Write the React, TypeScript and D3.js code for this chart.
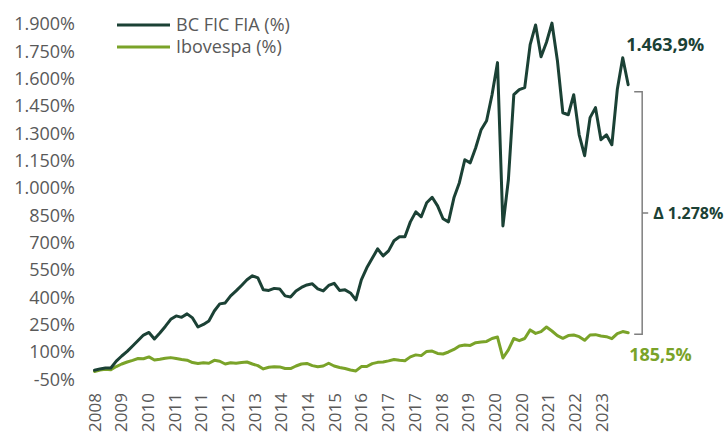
import React, { useEffect, useRef } from "react";
import * as d3 from "d3";

// rótulos do eixo X (eixo de categorias, como no original)
const rotulosX = [
  "2008", "2009", "2010", "2011", "2011", "2012", "2013", "2014", "2014", "2015",
  "2016", "2017", "2017", "2018", "2019", "2020", "2020", "2021", "2022", "2023"
];

const ticksY = [-50, 100, 250, 400, 550, 700, 850, 1000, 1150, 1300, 1450, 1600, 1750, 1900];

// observações entre dois rótulos consecutivos do eixo X
const PONTOS_POR_ROTULO = 4.9;

// rentabilidade acumulada (%)
const bcFic = [
  0, 7, 12, 12, 50, 78, 103, 133, 163, 193,
  207, 171, 204, 240, 279, 298, 290, 309, 287, 237,
  251, 270, 325, 364, 369, 408, 435, 465, 496, 518,
  507, 441, 438, 449, 446, 408, 402, 435, 454, 468,
  474, 446, 435, 465, 477, 438, 441, 424, 386, 496,
  562, 614, 666, 627, 655, 710, 732, 732, 814, 869,
  842, 919, 949, 902, 831, 814, 946, 1029, 1155, 1138,
  1221, 1320, 1369, 1512, 1688, 792, 1045, 1512, 1540, 1551,
  1787, 1895, 1720, 1800, 1905, 1700, 1413, 1402, 1512, 1292,
  1177, 1386, 1441, 1265, 1292, 1237, 1540, 1715, 1567
];

const ibovespa = [
  -7, 1, 5, 2, 20, 34, 45, 54, 64, 63,
  73, 56, 60, 65, 69, 64, 59, 55, 42, 37,
  41, 38, 54, 49, 34, 41, 38, 42, 45, 34,
  25, 7, 16, 19, 18, 9, 9, 23, 34, 37,
  25, 19, 23, 38, 23, 15, 9, 1, -4, 20,
  20, 36, 43, 45, 51, 59, 54, 52, 73, 84,
  80, 103, 105, 92, 89, 100, 114, 133, 138, 136,
  151, 155, 158, 174, 182, 67, 111, 174, 162, 174,
  221, 202, 212, 237, 215, 190, 175, 190, 193, 184,
  164, 193, 195, 188, 184, 173, 201, 212, 206
];

const series = [
  { nome: "BC FIC FIA (%)", valores: bcFic, cor: "#1b4135" },
  { nome: "Ibovespa (%)", valores: ibovespa, cor: "#7aa329" }
];

const finalBc = "1.463,9%";
const finalIbov = "185,5%";
const delta = "Δ 1.278%";

const fmt = d3
  .formatLocale({ decimal: ",", thousands: ".", grouping: [3], currency: ["R$", ""], minus: "-" })
  .format(",.0f");

function App() {
  const ref = useRef<SVGSVGElement>(null);

  useEffect(() => {
    const width = 724;
    const height = 434;
    const fonte = "'Open Sans', 'Noto Sans', sans-serif";
    const cinza = "#595959";

    const svg = d3.select(ref.current);
    svg.selectAll("*").remove();
    svg.attr("width", width).attr("height", height);

    const n = bcFic.length;
    // escala em unidades de rótulo do eixo X
    const x = d3.scaleLinear().domain([0, rotulosX.length - 1]).range([94.5, 601.5]);
    const y = d3.scaleLinear().domain([-50, 1900]).range([379.3, 24]);

    // Eixo Y (só rótulos)
    svg
      .append("g")
      .selectAll("text")
      .data(ticksY)
      .join("text")
      .attr("x", 75)
      .attr("y", d => y(d))
      .attr("dy", "0.36em")
      .attr("text-anchor", "end")
      .attr("fill", cinza)
      .attr("font-family", fonte)
      .attr("font-size", 18)
      .text(d => fmt(d) + "%");

    // Eixo X (rótulos rotacionados)
    svg
      .append("g")
      .selectAll("text")
      .data(rotulosX)
      .join("text")
      .attr("transform", (d, i) => `translate(${x(i)},393) rotate(-90)`)
      .attr("dy", "0.36em")
      .attr("text-anchor", "end")
      .attr("fill", cinza)
      .attr("font-family", fonte)
      .attr("font-size", 17)
      .text(d => d);

    const linha = d3
      .line<number>()
      .x((d, i) => x(i / PONTOS_POR_ROTULO))
      .y(d => y(d));

    // Ibovespa primeiro, BC por cima
    [...series].reverse().forEach(s => {
      svg
        .append("path")
        .datum(s.valores)
        .attr("fill", "none")
        .attr("stroke", s.cor)
        .attr("stroke-width", 3)
        .attr("stroke-linejoin", "round")
        .attr("stroke-linecap", "round")
        .attr("d", linha);
    });

    // Legenda
    const leg = svg.append("g");
    series.forEach((s, i) => {
      const ly = 25 + i * 22;
      leg
        .append("line")
        .attr("x1", 117)
        .attr("x2", 170)
        .attr("y1", ly)
        .attr("y2", ly)
        .attr("stroke", s.cor)
        .attr("stroke-width", 3);
      leg
        .append("text")
        .attr("x", 176)
        .attr("y", ly)
        .attr("dy", "0.36em")
        .attr("fill", cinza)
        .attr("font-family", fonte)
        .attr("font-size", 18)
        .text(s.nome);
    });

    // Anotações finais
    const xFim = x((n - 1) / PONTOS_POR_ROTULO);
    const yBc = y(bcFic[n - 1]);
    const yIb = y(ibovespa[n - 1]);
    const topo = yBc + 7;
    const base = yIb + 1.5;
    const xCh = xFim + 14;

    svg
      .append("path")
      .attr("d", `M${xCh - 8},${topo}H${xCh}V${base}H${xCh - 8}M${xCh},${(topo + base) / 2}H${xCh + 6}`)
      .attr("fill", "none")
      .attr("stroke", "#7f7f7f")
      .attr("stroke-width", 1.5);

    svg
      .append("text")
      .attr("x", xFim - 2)
      .attr("y", yBc - 40)
      .attr("dy", "0.36em")
      .attr("fill", series[0].cor)
      .attr("font-family", fonte)
      .attr("font-weight", "bold")
      .attr("font-size", 18)
      .text(finalBc);

    svg
      .append("text")
      .attr("x", xCh + 11)
      .attr("y", (topo + base) / 2)
      .attr("dy", "0.36em")
      .attr("fill", series[0].cor)
      .attr("font-family", fonte)
      .attr("font-weight", "bold")
      .attr("font-size", 16)
      .text(delta);

    svg
      .append("text")
      .attr("x", xFim + 1)
      .attr("y", yIb + 22)
      .attr("dy", "0.36em")
      .attr("fill", series[1].cor)
      .attr("font-family", fonte)
      .attr("font-weight", "bold")
      .attr("font-size", 18)
      .text(finalIbov);
  }, []);

  return <svg ref={ref} style={{ position: "absolute", left: 0, top: 0, background: "#fff" }}></svg>;
}

export default App;
